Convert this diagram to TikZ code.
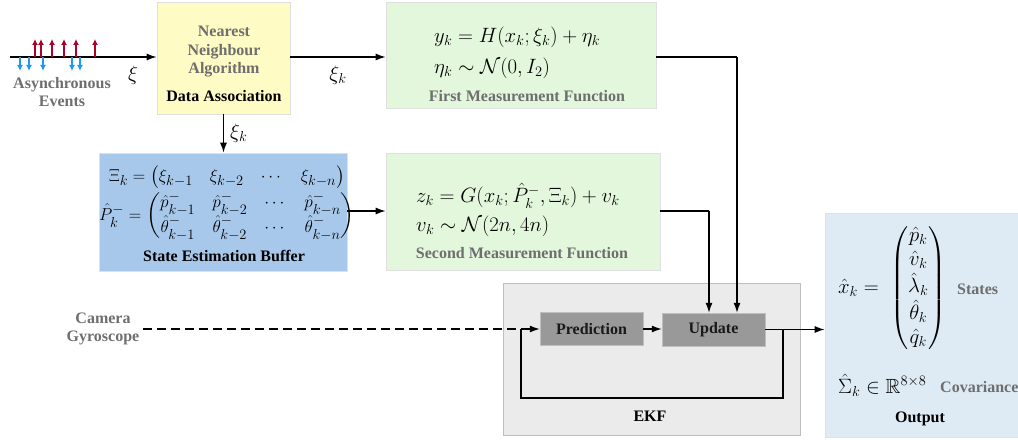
\documentclass[tikz,border=0pt]{standalone}
\usepackage{amsmath,amssymb}
\usepackage[no-math]{fontspec}
\setmainfont{Liberation Serif}
\usetikzlibrary{arrows.meta,calc}
\definecolor{yelbox}{HTML}{FFFBC4}
\definecolor{grnbox}{HTML}{E3F7DC}
\definecolor{blubox}{HTML}{A8C8EB}
\definecolor{ekfbox}{HTML}{EBEBEB}
\definecolor{opbox}{HTML}{999999}
\definecolor{outbox}{HTML}{DEEBF4}
\definecolor{lblgray}{HTML}{6E6E6E}
\definecolor{evred}{HTML}{B00028}
\definecolor{evblue}{HTML}{1E9BF0}
\tikzset{
  panel/.style={rectangle, draw=black!12, line width=0.6pt, inner sep=0pt},
  opnode/.style={rectangle, fill=opbox, draw=black!25, line width=0.4pt, minimum width=103pt, minimum height=33pt, font=\fontsize{16}{18}\selectfont\bfseries, text=black!90},
  glabel/.style={font=\fontsize{16}{18.5}\selectfont\bfseries, text=lblgray, align=center, inner sep=0pt},
  blabel/.style={font=\fontsize{16}{18.5}\selectfont\bfseries, text=black, align=center, inner sep=0pt},
  mathtxt/.style={font=\fontsize{20.5}{24}\selectfont, inner sep=0pt},
  bufmath/.style={font=\fontsize{19}{22}\selectfont, inner sep=0pt},
  conn/.style={line width=1.3pt, -{Latex[length=10pt,width=7pt]}},
  plain/.style={line width=1.3pt},
  redev/.style={draw=evred, line width=1.2pt, -{Latex[length=6pt,width=6pt]}},
  blueev/.style={draw=evblue, line width=1.2pt, -{Latex[length=6pt,width=6pt]}},
}
\begin{document}
\begin{tikzpicture}[x=1pt, y=-1pt]
\useasboundingbox (0,0) rectangle (1018,443);
% panels
\node[panel, fill=yelbox, minimum width=133pt, minimum height=112pt] (da) at (223.5,58) {};
\node[panel, fill=grnbox, minimum width=270pt, minimum height=106pt] (fm) at (521,55) {};
\node[panel, fill=blubox, minimum width=248pt, minimum height=118pt] (seb) at (223,212) {};
\node[panel, fill=grnbox, minimum width=274pt, minimum height=117pt] (sm) at (523,211.5) {};
\node[panel, fill=ekfbox, draw=black!25, minimum width=297pt, minimum height=152pt] (ekf) at (651.5,359) {};
\node[panel, fill=outbox, draw=black!12, minimum width=195pt, minimum height=224pt] (out) at (922.5,325) {};
% DA text
\node[glabel] (nna) at (224,52) {Nearest\\Neighbour\\Algorithm};
\node[blabel] (dal) at (224,96) {Data Association};
% first measurement
\node[mathtxt, anchor=west] (eq1) at (434,37) {$y_k = H(x_k;\xi_k) + \eta_k$};
\node[mathtxt, anchor=west] (eq2) at (434,68) {$\eta_k \sim \mathcal{N}(0, I_2)$};
\node[glabel] (fml) at (527,96) {First Measurement Function};
% buffer
\node[bufmath] (xib) at (227,177) {\setlength{\arraycolsep}{8.5pt}$\Xi_k = \begin{pmatrix}\xi_{k-1} & \xi_{k-2} & \cdots & \xi_{k-n}\end{pmatrix}$};
\node[bufmath] (pb) at (227,216) {\setlength{\arraycolsep}{8.5pt}$\hat{P}_k^- = \begin{pmatrix}\hat{p}_{k-1}^- & \hat{p}_{k-2}^- & \cdots & \hat{p}_{k-n}^-\\ \hat{\theta}_{k-1}^- & \hat{\theta}_{k-2}^- & \cdots & \hat{\theta}_{k-n}^-\end{pmatrix}$};
\node[blabel] (sebl) at (224,256) {State Estimation Buffer};
% second measurement
\node[mathtxt, anchor=west] (eq3) at (416,196) {$z_k = G(x_k;\hat{P}_k^-,\Xi_k) + v_k$};
\node[mathtxt, anchor=west] (eq4) at (416,226) {$v_k \sim \mathcal{N}(2n, 4n)$};
\node[glabel] (sml) at (522,253) {Second Measurement Function};
% EKF
\node[opnode] (pred) at (591.5,329) {Prediction};
\node[opnode] (upd) at (713.5,329.5) {Update};
\node[blabel] (ekfl) at (650,416) {EKF};
% output
\node[mathtxt, anchor=west] (xh) at (838,288) {$\hat{x}_k = \;\begin{pmatrix}\hat{p}_k\\ \hat{v}_k\\ \hat{\lambda}_k\\ \hat{\theta}_k\\ \hat{q}_k\end{pmatrix}$};
\node[glabel, anchor=west] (stl) at (957,289) {States};
\node[mathtxt, anchor=west] (sig) at (838,385) {$\hat{\Sigma}_k \in \mathbb{R}^{8\times 8}$};
\node[glabel, anchor=west] (covl) at (940,387) {Covariance};
\node[blabel] (outl) at (920,419) {Output};
% events
\coordinate (ax0) at (10,57);
\draw[conn] (ax0) -- (da.west |- ax0);
\foreach \x in {35,41,52,64,76,95} \draw[redev] (\x,57) -- (\x,39);
\foreach \x in {20,29,43,72,80} \draw[blueev] (\x,57) -- (\x,71);
\node[glabel] (ael) at (62,92) {Asynchronous\\Events};
\node[mathtxt] (xi0) at (133,75) {$\xi$};
% connectors
\draw[conn] (da.east |- ax0) -- node[mathtxt, below=8pt] (xk1) {$\xi_k$} (fm.west |- ax0);
\draw[conn] (da.south) -- node[mathtxt, right=6pt] (xk2) {$\xi_k$} (da.south |- seb.north);
\draw[conn] (seb.east |- 0,211) -- (sm.west |- 0,211);
\coordinate (fmr) at (737,57);
\draw[plain] (fm.east |- fmr) -- (fmr);
\draw[conn] (fmr) -- (fmr |- upd.north);
\coordinate (smr) at (709,211);
\draw[plain] (sm.east |- smr) -- (smr);
\draw[conn] (smr) -- (smr |- upd.north);
\draw[conn] (pred.east) -- (upd.west |- pred.east);
\draw[conn] (upd.east) -- (out.west |- upd.east);
\coordinate (lp1) at (783,329.5);
\coordinate (lp2) at (783,398);
\coordinate (lp3) at (521,398);
\coordinate (lp4) at (521,329);
\draw[plain] (lp1) -- (lp2) -- (lp3) -- (lp4);
\draw[conn] (lp4) -- (pred.west);
\node[glabel] (cgl) at (103,329) {Camera\\Gyroscope};
\draw[line width=1.3pt, dash pattern=on 9pt off 5pt] (cgl.east) ++(4,0) -- (lp4);
\end{tikzpicture}
\end{document}
